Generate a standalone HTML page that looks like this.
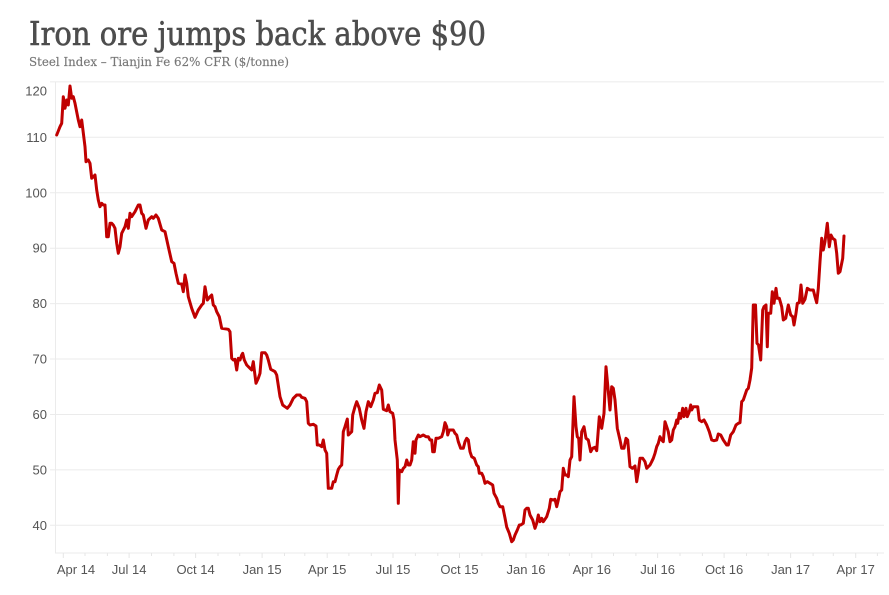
<!DOCTYPE html>
<html>
<head>
<meta charset="utf-8">
<style>
html,body{margin:0;padding:0;background:#fff;}
svg{display:block;}
</style>
</head>
<body>
<svg width="889" height="595" viewBox="0 0 889 595" xmlns="http://www.w3.org/2000/svg">
<rect width="889" height="595" fill="#fff"/>
<text x="29" y="45" font-family="'DejaVu Serif','Liberation Serif',serif" font-size="33" fill="#4d4d4d" stroke="#4d4d4d" stroke-width="0.6" textLength="457" lengthAdjust="spacingAndGlyphs">Iron ore jumps back above $90</text>
<text x="29" y="66" font-family="'DejaVu Serif','Liberation Serif',serif" font-size="12.5" fill="#777" stroke="#777" stroke-width="0.15" textLength="260" lengthAdjust="spacingAndGlyphs">Steel Index – Tianjin Fe 62% CFR ($/tonne)</text>

<g stroke="#ebebeb" stroke-width="1">
<line x1="50" y1="81.9" x2="884" y2="81.9"/>
<line x1="50" y1="137.3" x2="884" y2="137.3"/>
<line x1="50" y1="192.8" x2="884" y2="192.8"/>
<line x1="50" y1="248.2" x2="884" y2="248.2"/>
<line x1="50" y1="303.6" x2="884" y2="303.6"/>
<line x1="50" y1="359.0" x2="884" y2="359.0"/>
<line x1="50" y1="414.5" x2="884" y2="414.5"/>
<line x1="50" y1="469.9" x2="884" y2="469.9"/>
<line x1="50" y1="525.3" x2="884" y2="525.3"/>
<line x1="55.5" y1="81.9" x2="55.5" y2="553"/>
<line x1="55" y1="553" x2="884" y2="553"/>
</g>
<g stroke="#e6e6e6" stroke-width="1">
<line x1="63.3" y1="553" x2="63.3" y2="558"/>
<line x1="85.0" y1="553" x2="85.0" y2="556"/>
<line x1="107.4" y1="553" x2="107.4" y2="556"/>
<line x1="129.1" y1="553" x2="129.1" y2="558"/>
<line x1="151.5" y1="553" x2="151.5" y2="556"/>
<line x1="173.9" y1="553" x2="173.9" y2="556"/>
<line x1="195.6" y1="553" x2="195.6" y2="558"/>
<line x1="218.0" y1="553" x2="218.0" y2="556"/>
<line x1="239.7" y1="553" x2="239.7" y2="556"/>
<line x1="262.1" y1="553" x2="262.1" y2="558"/>
<line x1="284.5" y1="553" x2="284.5" y2="556"/>
<line x1="304.8" y1="553" x2="304.8" y2="556"/>
<line x1="327.2" y1="553" x2="327.2" y2="558"/>
<line x1="348.9" y1="553" x2="348.9" y2="556"/>
<line x1="371.3" y1="553" x2="371.3" y2="556"/>
<line x1="393.0" y1="553" x2="393.0" y2="558"/>
<line x1="415.4" y1="553" x2="415.4" y2="556"/>
<line x1="437.8" y1="553" x2="437.8" y2="556"/>
<line x1="459.5" y1="553" x2="459.5" y2="558"/>
<line x1="481.9" y1="553" x2="481.9" y2="556"/>
<line x1="503.6" y1="553" x2="503.6" y2="556"/>
<line x1="526.0" y1="553" x2="526.0" y2="558"/>
<line x1="548.4" y1="553" x2="548.4" y2="556"/>
<line x1="569.4" y1="553" x2="569.4" y2="556"/>
<line x1="591.8" y1="553" x2="591.8" y2="558"/>
<line x1="613.5" y1="553" x2="613.5" y2="556"/>
<line x1="635.9" y1="553" x2="635.9" y2="556"/>
<line x1="657.6" y1="553" x2="657.6" y2="558"/>
<line x1="680.0" y1="553" x2="680.0" y2="556"/>
<line x1="702.4" y1="553" x2="702.4" y2="556"/>
<line x1="724.1" y1="553" x2="724.1" y2="558"/>
<line x1="746.5" y1="553" x2="746.5" y2="556"/>
<line x1="768.2" y1="553" x2="768.2" y2="556"/>
<line x1="790.6" y1="553" x2="790.6" y2="558"/>
<line x1="813.1" y1="553" x2="813.1" y2="556"/>
<line x1="833.3" y1="553" x2="833.3" y2="556"/>
<line x1="855.7" y1="553" x2="855.7" y2="558"/>
<line x1="877.4" y1="553" x2="877.4" y2="556"/>
</g>

<g font-family="'Liberation Sans',sans-serif" font-size="13" fill="#555" text-anchor="end">
<text x="47" y="95.5">120</text>
<text x="47" y="141.8">110</text>
<text x="47" y="197.3">100</text>
<text x="47" y="252.7">90</text>
<text x="47" y="308.1">80</text>
<text x="47" y="363.5">70</text>
<text x="47" y="419.0">60</text>
<text x="47" y="474.4">50</text>
<text x="47" y="529.8">40</text>
</g>
<g font-family="'Liberation Sans',sans-serif" font-size="13" fill="#555" text-anchor="middle">
<text x="76" y="574">Apr 14</text>
<text x="129.1" y="574">Jul 14</text>
<text x="195.6" y="574">Oct 14</text>
<text x="262.1" y="574">Jan 15</text>
<text x="327.2" y="574">Apr 15</text>
<text x="393.0" y="574">Jul 15</text>
<text x="459.5" y="574">Oct 15</text>
<text x="526.0" y="574">Jan 16</text>
<text x="591.8" y="574">Apr 16</text>
<text x="657.6" y="574">Jul 16</text>
<text x="724.1" y="574">Oct 16</text>
<text x="790.6" y="574">Jan 17</text>
<text x="855.7" y="574">Apr 17</text>
</g>

<polyline fill="none" stroke="#c00000" stroke-width="3" stroke-linejoin="round" stroke-linecap="round" points="
56.7,135 60,126.7 61.7,123.3 63.3,96.7 65,108.3 66.7,100 68.3,105 70,86 71.7,98.3 73.3,96.7 75,103.3 78.3,120 80,126.7 81.7,120 85,146.7 86,161.7 88.3,160 90,163.3 91.7,178.3 93.3,176.7 95,175 96.7,190 98.3,200 100,206.7 101.7,203.3 103.3,205 105,205 106.7,236.7 108.3,236.7 110,223.3 111.7,223.3 113.3,225 115,228.3 116.7,243.3 118.3,253.3 120,246.7 121.7,233.3 125,226.7 126.7,220 128.3,228.3 130,213.3 131.7,216.7 135,211.7 138.3,205 140,205 141.7,213.3 143.3,215 146,228.3 148.3,220 151.7,216.7 153.3,218.3 156,215 158.3,218.3 161.7,230 165,231.7 168.3,246.7 171.7,261.7 174,263.3 176,273.3 178.3,283.3 181.7,284 183.3,291.7 185,275 186.7,283.3 188.3,296.7 191.7,308.3 195,317.3 198.3,310 201.7,305 203.3,303.3 205,286.7
207.3,300 210,296.7 211.7,295 213.3,305 215,306.7 216.7,311.7 219.3,316.7 221.7,328.3 228.3,329.3 230,331.7 231.7,358.3 233.3,360 235,359.3 236.7,370 238.3,358.3 240,360 241.7,355 242.7,353.3 244.3,360 246.7,365 250,368.3 251.7,370 253.3,361.7 254.3,370 256,383.3 258.3,378.3 260,373.3 261.7,352.7 265,352.7 266.7,355 268.3,360 270.7,369.3 273.3,370.7 275,371.7 276.7,375 280,396.7 282.7,405 285,406.7 287.3,408.3 290,405 293.3,398.3 296.7,395 300,395 301.7,397.3 305,398.3 306.7,401.7 308.3,423.3 310,425 313.3,424.3 316,426 317.3,445 319.3,445 321.7,446.7 323.3,440 325,450 326.7,453.3 328.3,488.3 331.7,488.3 333.3,481.7 335,481.7 336.7,475 338.3,469.3 340,466.7 341.7,465 343.3,431.7
345,426.7 347.3,419 348.3,435 351.7,431.7 352.7,415 355,406.7 356.7,401.7 359.3,408.3 361.7,420 364,428.3 366,411.7 368.3,401.7 370.7,406.7 373.3,400 375,393.3 377.3,392.7 379.3,385 381.7,390 383.3,409.3 386.7,410.7 388.3,405 390,411.7 392.7,413.3 394,420 395,440 397.3,460 398.3,503.3 399.3,470 401.7,471.7 403.3,468.3 405,466.7 406.7,460 408.3,465 410,465 411.7,460 413.3,441.7 415,453.3 416,440 418.3,435 420,436.7 423.3,435 426,436.7 428.3,436.7 430,440 431.7,440 432.7,451.7 434.3,451.7 436,438.3 438.3,438.3 441.7,436.7 443.3,431.7 445,422.7 446.7,426.7 447.7,435 449.3,430 453.3,430 455,433.3 456.7,435 458.3,441.7 460.7,448.3 463.3,448.3 465,441.7 466.7,438.3 468.3,440 470,451.7 471.7,456.7 474.3,458.3 476.7,465 478.3,466.7 479.3,473.3 481.7,473.3 483.3,476.7 485,483.3 487.3,481.7 490,483.3 492.7,485 494,493.3 496.7,498.3 498.3,503.3 500,506.7 502.7,506.7 505,518 506.7,527 509.3,533.3 511.7,541.7 513.3,540
515,535 517.3,530 519.3,525 520.7,525 523.3,523.3 525,510 526.7,508.3 528.3,508.3 530,515 532.7,520 535,528.3 536.7,523.3 538.3,515 540,521.7 541.7,518.3 543.3,521.7 546.7,516.7 549.3,508.3 550.7,499.3 553.3,500 555,499.3 556.7,506.7 558.3,500 560,491.7 561.7,490 563.3,468.3 565,475 566.7,475 568.3,476.7 570,460 571.7,456.7 574,396.7 576,426.7 577.3,436.7 578.7,438.3 580,460 581.7,431.7 584,426.7 586,438.3 588.3,440 590.7,451.7 592.7,448.3 595,447.3 596.7,450.7 599.3,416.7 601.7,428.3 604,413.3 606,366.7 607.7,385 610,410 611.7,386.7 613.3,388.3 615,400 617.3,428.3 620,440 621.7,448.3 624,448.3 626,438.3 627.7,440 630,466.7 632.3,468.3 635,466 636.7,481.7 638.3,471.7 640,458.3
642.7,458.3 645,461.7 646.7,468.3 648.3,466.7 650,465 651.7,461.7 653.3,458.3 655,453.3 656.7,446.7 658.3,443.3 660,436.7 661.7,440 663.3,441.7 665,421.7 666.7,426.7 668.3,431.7 670,441.7 671.7,440 673.3,430 675,426.7 676.7,420 677.7,423.3 679.3,413.3 680.7,418.3 682.7,408.3 684,416.7 686,408.3 687.3,416.7 689.3,411.7 690.7,405 691.7,410 693.3,406.7 697.7,406.7 699.3,420 701.7,421.7 704,420 706.7,425 709.3,431.7 711.7,440 714,440.7 716.7,440 718.3,434 720.7,435 723.3,440 726.7,445 728.3,445 730.7,435 733.3,431.7 736,425 738.3,423.3 740,422.7 741.7,401.7 743.3,400 745,395 746.7,390 748.3,388.3 750,380 751.7,368 753.3,305 755.5,305 757,343.3 758.5,345 760.7,360 762.7,310 764,306.7 766,305 767.3,346.7 768.3,313.3 770.7,313.3 772.3,291.7 774,303.3 776,288.3 777.3,298.3 779.3,298.3 781.7,306.7 783.3,320 785.7,318.3 788.3,305 790.7,315 792.7,316.7 794,325 796,313.3 797.3,303.3 799.3,302.7 801,285 802.7,303.3 805,299.3 807.3,288.3 810,290 813.3,290 815,296.7 816.7,302.7 818.3,288.3 820,261.7 821.7,238.3 823.3,250 825,241.7 827.3,223.3 829.3,246.7 831,235 832.7,238.3 835,240 836.7,253.3 838.3,273.3 840,271.7 842.7,258.3 844,236"/>
</svg>
</body>
</html>
